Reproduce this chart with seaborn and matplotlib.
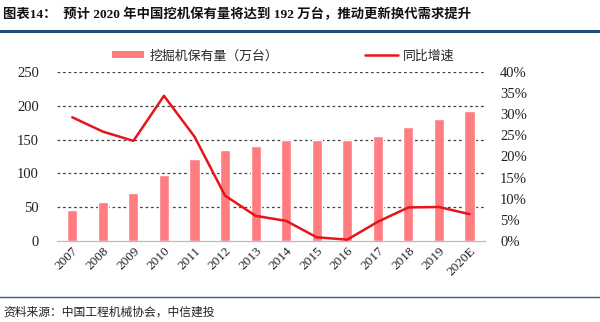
import matplotlib
matplotlib.use("Agg")
import matplotlib.pyplot as plt
import seaborn as sns
import pandas as pd
from matplotlib.patches import Patch
from matplotlib.lines import Line2D
from matplotlib.ticker import FuncFormatter, MultipleLocator

years = ["2007", "2008", "2009", "2010", "2011", "2012", "2013", "2014",
         "2015", "2016", "2017", "2018", "2019", "2020E"]
holdings = [46, 58, 71, 97, 121, 134, 141, 149, 149, 149, 155, 168, 181, 192]
growth = [29.3, 25.9, 23.7, 34.4, 24.7, 10.7, 5.9, 4.7, 0.8, 0.25, 4.5, 7.9, 8.0, 6.3]

bar_label = "挖掘机保有量（万台）"
line_label = "同比增速"
title = "图表14：  预计 2020 年中国挖机保有量将达到 192 万台，推动更新换代需求提升"
source = "资料来源：中国工程机械协会，中信建投"

sns.set_theme(style="white")
plt.rcParams["font.family"] = ["Liberation Serif", "Noto Sans CJK SC", "DejaVu Sans"]

df = pd.DataFrame({"year": years, "holdings": holdings, "growth": growth})

fig = plt.figure(figsize=(6, 3.22), dpi=100)
ax = fig.add_axes([0.095, 0.2525, 0.713, 0.5232])

bar_color = "#ff7c80"
line_color = "#e8141b"

sns.barplot(data=df, x="year", y="holdings", color=bar_color, width=0.33,
            ax=ax, saturation=1)
ax.set_ylim(0, 250)
ax.yaxis.set_major_locator(MultipleLocator(50))
ax.set_xlim(-0.5, len(years) - 0.5)
ax.set_xlabel("")
ax.set_ylabel("")
for y in range(50, 251, 50):
    ax.axhline(y, color="#444444", lw=0.9, ls=(0, (2.2, 2.2)), zorder=0)
ax.set_axisbelow(True)

ax2 = ax.twinx()
sns.lineplot(data=df, x="year", y="growth", color=line_color, lw=1.8,
             ax=ax2, sort=False)
ax2.set_ylim(0, 40)
ax2.yaxis.set_major_locator(MultipleLocator(5))
ax2.yaxis.set_major_formatter(FuncFormatter(lambda v, p: f"{v:.0f}%"))
ax2.set_ylabel("")
ax2.set_xlim(-0.5, len(years) - 0.5)

for a in (ax, ax2):
    for s in ("top", "left", "right"):
        a.spines[s].set_visible(False)
    a.spines["bottom"].set_color("#bbbbbb")
    a.spines["bottom"].set_linewidth(0.9)
    a.tick_params(axis="y", length=0, labelsize=10.5, colors="#222222")
ax.tick_params(axis="y", pad=13)
ax2.tick_params(axis="y", pad=11)
ax2.spines["bottom"].set_visible(False)

ax.set_xticks(range(len(years)))
ax.set_xticklabels(years, rotation=45, ha="right", rotation_mode="anchor",
                   fontsize=9.5, color="#222222")
ax.tick_params(axis="x", length=0, pad=3)
ax.set_xticks([i - 0.5 for i in range(len(years) + 1)], minor=True)
ax.tick_params(axis="x", which="minor", length=4, color="#bbbbbb", width=0.8)
for lbl in ax.get_yticklabels() + ax2.get_yticklabels():
    lbl.set_fontfamily("Liberation Serif")

handles = [Patch(facecolor=bar_color, edgecolor="none"),
           Line2D([0], [0], color=line_color, lw=1.8)]
fig.legend(handles, [bar_label, line_label], loc="center left",
           bbox_to_anchor=(0.167, 0.826), ncol=2, frameon=False,
           handlelength=2.5, handleheight=0.45, handletextpad=0.4,
           columnspacing=6.75,
           prop={"family": ["Noto Sans CJK SC"], "size": 9.3})

fig.text(0.005, 0.955, title, fontsize=9.6, fontweight="bold", ha="left",
         va="center", color="#111111",
         family=["Liberation Serif", "Noto Sans CJK SC"])
fig.add_artist(Line2D([0.0, 1.0], [0.905, 0.905], color="#1f4e79", lw=2.2,
                      transform=fig.transFigure))
fig.add_artist(Line2D([0.0, 1.0], [0.077, 0.077], color="#2b5f8f", lw=1.0,
                      transform=fig.transFigure))
fig.text(0.005, 0.03, source, fontsize=8.5, ha="left", va="center",
         color="#222222", style="italic", family=["Noto Sans CJK SC"])

fig.savefig("out.png", dpi=100)
